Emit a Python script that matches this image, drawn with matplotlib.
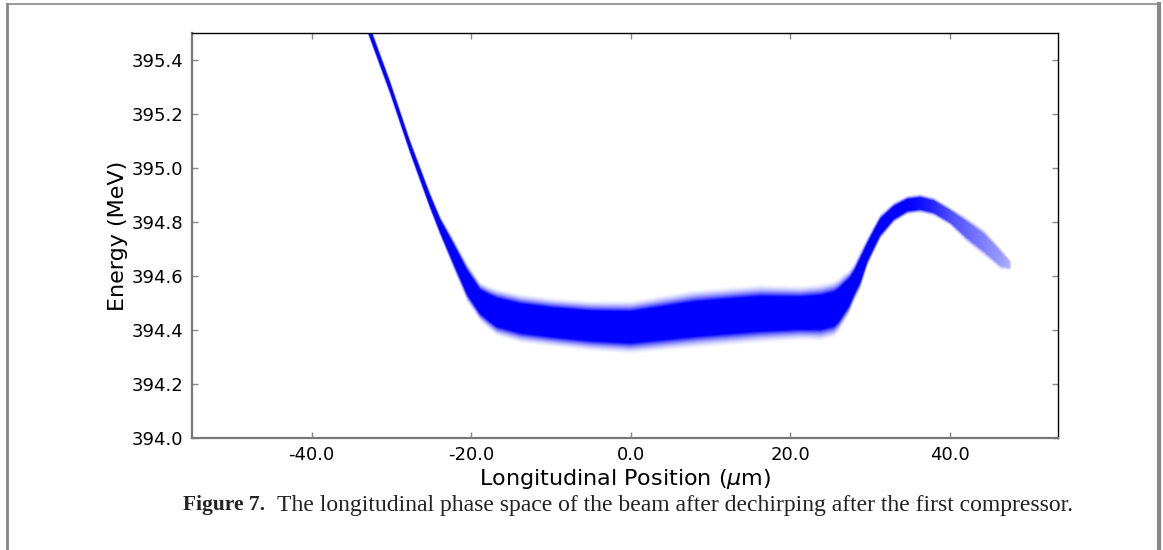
import matplotlib
matplotlib.use('Agg')
import matplotlib.pyplot as plt
from matplotlib.ticker import FormatStrFormatter
from matplotlib.lines import Line2D
import numpy as np

# beam band:
# position (um), outer lower / upper energy of the particles (MeV), relative density
x_pos = [-33.3, -30.2, -27.7, -25.2, -23.9, -22.2, -20.5, -19.7, -18.9, -17.8, -16.8, -13.8, -9.7,
         -5.0, 0.0, 4.0, 7.9, 12.0, 16.3, 21.3, 23.8, 25.5, 26.1, 26.7, 27.4, 28.0, 28.8, 29.7,
         30.5, 31.3, 33.0, 34.7, 36.3, 38.0, 40.1, 42.2, 44.3, 46.4, 47.6]
e_low = [395.52, 395.27, 395.05, 394.845, 394.745, 394.62, 394.50, 394.465, 394.43, 394.40, 394.375, 394.35, 394.335,
         394.32, 394.31, 394.32, 394.33, 394.34, 394.35, 394.36, 394.357, 394.37, 394.39, 394.42, 394.455, 394.50, 394.548, 394.634,
         394.684, 394.733, 394.795, 394.826, 394.832, 394.82, 394.783, 394.72, 394.67, 394.62, 394.62]
e_high = [395.58, 395.33, 395.11, 394.915, 394.825, 394.74, 394.65, 394.615, 394.58, 394.565, 394.555, 394.535, 394.52,
          394.51, 394.51, 394.53, 394.55, 394.56, 394.57, 394.565, 394.573, 394.585, 394.595, 394.61, 394.625, 394.647, 394.696, 394.746,
          394.79, 394.832, 394.875, 394.90, 394.906, 394.894, 394.857, 394.82, 394.777, 394.708, 394.66]
density = [1.0, 1.0, 1.0, 1.0, 1.0, 1.0, 1.0, 1.0, 1.0, 1.0, 1.0, 1.0, 1.0,
           1.0, 1.0, 1.0, 1.0, 1.0, 1.0, 1.0, 1.0, 1.0, 1.0, 1.0, 1.0, 1.0, 1.0, 1.0,
           1.0, 1.0, 1.0, 1.0, 0.95, 0.85, 0.7, 0.6, 0.5, 0.4, 0.3]

x_ticks = [-40.0, -20.0, 0.0, 20.0, 40.0]
y_ticks = [394.0, 394.2, 394.4, 394.6, 394.8, 395.0, 395.2, 395.4]
x_range = (-55.0, 53.55)
y_range = (394.0, 395.5)

plt.rcParams['axes.unicode_minus'] = False

fig = plt.figure(figsize=(11.63, 5.5), dpi=100)
ax = fig.add_axes([192 / 1163, 1 - 438 / 550, (1058 - 192) / 1163, (438 - 33) / 550])

# render the particle band as a density image on the axes' own data extent
xs = np.linspace(x_range[0], x_range[1], 1732)
es = np.linspace(y_range[0], y_range[1], 810)
lo = np.interp(xs, x_pos, e_low)
hi = np.interp(xs, x_pos, e_high)
dens = np.interp(xs, x_pos, density)
inside = (xs >= x_pos[0]) & (xs <= x_pos[-1])
mid = (lo + hi) / 2
half = (hi - lo) / 2
u = np.abs(es[:, None] - mid[None, :]) / half[None, :]
alpha = np.clip((1.03 - u) / 0.45, 0, 1) ** 1.8 * dens[None, :] * inside[None, :]
rgba = np.zeros((len(es), len(xs), 4))
rgba[..., 2] = 1.0
rgba[..., 3] = np.clip(alpha, 0, 1)
ax.imshow(rgba, extent=[x_range[0], x_range[1], y_range[0], y_range[1]], origin='lower',
          aspect='auto', interpolation='bilinear')

ax.set_xlim(*x_range)
ax.set_ylim(*y_range)
ax.set_xticks(x_ticks)
ax.set_yticks(y_ticks)
ax.xaxis.set_major_formatter(FormatStrFormatter('%.1f'))
ax.yaxis.set_major_formatter(FormatStrFormatter('%.1f'))
ax.tick_params(direction='in', length=4, width=1, color='#888888', labelsize=13,
               top=True, right=True, pad=6)
ax.set_xlabel(r'Longitudinal Position ($\mu$m)', fontsize=16, labelpad=2)
ax.set_ylabel('Energy (MeV)', fontsize=16, labelpad=3)
for side in ['left', 'bottom']:
    ax.spines[side].set_color('#777777')
    ax.spines[side].set_linewidth(1.6)
for side in ['top', 'right']:
    ax.spines[side].set_color('black')
    ax.spines[side].set_linewidth(1.0)

# page frame around the figure
fig.add_artist(Line2D([7 / 1163, 7 / 1163], [0, 1 - 4 / 550], transform=fig.transFigure,
                      color='#888888', lw=2))
fig.add_artist(Line2D([7 / 1163, 1159 / 1163], [1 - 4 / 550, 1 - 4 / 550], transform=fig.transFigure,
                      color='#888888', lw=1.2))
fig.add_artist(Line2D([1159 / 1163, 1159 / 1163], [0, 1 - 4 / 550], transform=fig.transFigure,
                      color='#888888', lw=3))

fig.text(183 / 1163, 1 - 505 / 550, 'Figure 7.', family='Liberation Serif', weight='bold',
         fontsize=15.5, va='center', ha='left', color='#222222')
fig.text(277 / 1163, 1 - 505 / 550,
         'The longitudinal phase space of the beam after dechirping after the first compressor.',
         family='Liberation Serif', fontsize=17, va='center', ha='left', color='#222222')

plt.savefig('out.png', dpi=100)
